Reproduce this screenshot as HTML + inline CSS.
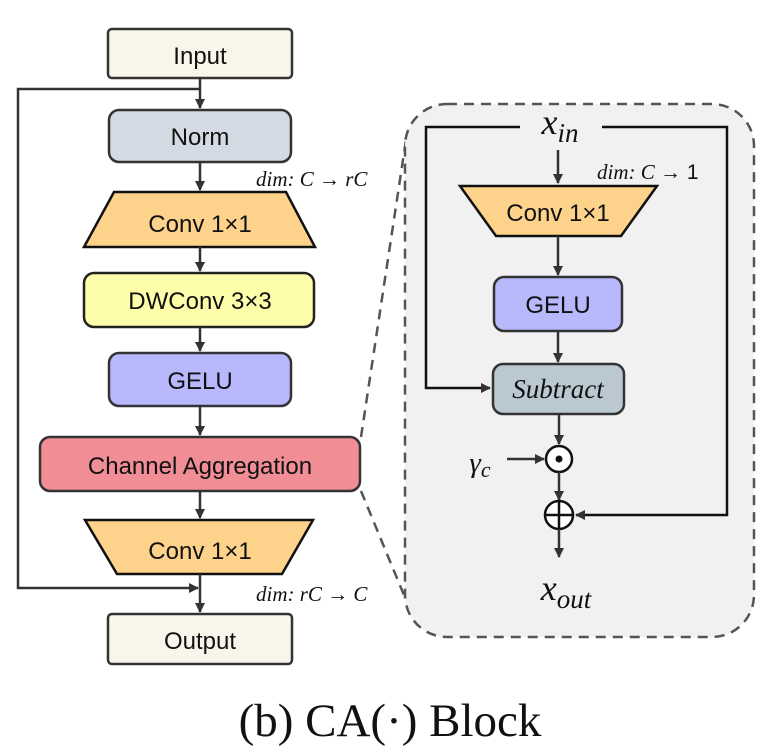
<!DOCTYPE html>
<html><head><style>html,body{margin:0;padding:0;background:#fff;}svg{display:block}</style></head>
<body>
<svg width="781" height="756" viewBox="0 0 781 756" xmlns="http://www.w3.org/2000/svg">
<defs>
<marker id="a" markerWidth="10" markerHeight="10" refX="9" refY="5" orient="auto" markerUnits="userSpaceOnUse"><path d="M0,0 L10,5 L0,10 z" fill="#333"/></marker>
</defs>
<g font-family="Liberation Sans, sans-serif" font-size="24" text-anchor="middle" fill="#111">
<path d="M361,437 L406,140" stroke="#555" stroke-width="2.5" stroke-dasharray="10,7" fill="none"/>
<path d="M361,491 L406,600" stroke="#555" stroke-width="2.5" stroke-dasharray="10,7" fill="none"/>
<rect x="405" y="104" width="349" height="533" rx="42" fill="#f1f1f1" stroke="#555" stroke-width="2.5" stroke-dasharray="10,7"/>
<rect x="108" y="29" width="184" height="49" rx="4" fill="#f8f6ea" stroke="#333" stroke-width="2.5"/>
<text x="200" y="64">Input</text>
<path d="M200,78 V108" stroke="#333" stroke-width="2.5" marker-end="url(#a)"/>
<path d="M200,89 H18 V588 H198" stroke="#333" stroke-width="2.5" fill="none" marker-end="url(#a)"/>
<rect x="109" y="110" width="182" height="52" rx="10" fill="#d4dae3" stroke="#333" stroke-width="2.5"/>
<text x="200" y="145">Norm</text>
<path d="M200,162 V190" stroke="#333" stroke-width="2.5" marker-end="url(#a)"/>
<polygon points="114,192 286,192 315,247 84,247" fill="#fdd28a" stroke="#111" stroke-width="2.5"/>
<text x="200" y="232">Conv 1×1</text>
<path d="M200,247 V271" stroke="#333" stroke-width="2.5" marker-end="url(#a)"/>
<rect x="84" y="273" width="230" height="54" rx="10" fill="#fefdaa" stroke="#222" stroke-width="2.5"/>
<text x="200" y="309">DWConv 3×3</text>
<path d="M200,327 V351" stroke="#333" stroke-width="2.5" marker-end="url(#a)"/>
<rect x="109" y="353" width="182" height="53" rx="10" fill="#b8b8fc" stroke="#333" stroke-width="2.5"/>
<text x="200" y="389">GELU</text>
<path d="M200,406 V435" stroke="#333" stroke-width="2.5" marker-end="url(#a)"/>
<rect x="40" y="437" width="320" height="54" rx="10" fill="#f08d95" stroke="#333" stroke-width="2.5"/>
<text x="200" y="474">Channel Aggregation</text>
<path d="M200,491 V518" stroke="#333" stroke-width="2.5" marker-end="url(#a)"/>
<polygon points="85,520 313,520 282,574 117,574" fill="#fdd28a" stroke="#111" stroke-width="2.5"/>
<text x="200" y="559">Conv 1×1</text>
<path d="M200,574 V612" stroke="#333" stroke-width="2.5" marker-end="url(#a)"/>
<rect x="108" y="614" width="184" height="50" rx="4" fill="#f8f6ea" stroke="#333" stroke-width="2.5"/>
<text x="200" y="649">Output</text>
<g font-family="Liberation Serif, serif" font-style="italic" font-size="21" text-anchor="start">
<text x="256" y="186">dim: C → rC</text>
<text x="256" y="601">dim: rC → C</text>
<text x="597" y="179">dim: C <tspan font-style="normal" font-family="Liberation Sans, sans-serif">→ 1</tspan></text>
</g>
<path d="M520,127 H426 V388 H490" stroke="#111" stroke-width="2.5" fill="none" marker-end="url(#a)"/>
<path d="M602,127 H727 V515 H576" stroke="#111" stroke-width="2.5" fill="none" marker-end="url(#a)"/>
<text x="560" y="134" font-family="Liberation Serif, serif" font-style="italic" font-size="36">x<tspan font-size="27" dy="8">in</tspan></text>
<path d="M558,150 V183" stroke="#333" stroke-width="2.5" marker-end="url(#a)"/>
<polygon points="460,186 657,186 621,236 496,236" fill="#fdd28a" stroke="#111" stroke-width="2.5"/>
<text x="558" y="221">Conv 1×1</text>
<path d="M558,236 V275" stroke="#333" stroke-width="2.5" marker-end="url(#a)"/>
<rect x="494" y="277" width="128" height="54" rx="10" fill="#b8b8fc" stroke="#333" stroke-width="2.5"/>
<text x="558" y="313">GELU</text>
<path d="M558,331 V362" stroke="#333" stroke-width="2.5" marker-end="url(#a)"/>
<rect x="493" y="364" width="131" height="50" rx="10" fill="#b9c8d1" stroke="#333" stroke-width="2.5"/>
<text x="558" y="398" font-family="Liberation Serif, serif" font-style="italic" font-size="27">Subtract</text>
<path d="M559,414 V444" stroke="#333" stroke-width="2.5" marker-end="url(#a)"/>
<circle cx="559" cy="459" r="13" fill="#fff" stroke="#111" stroke-width="2.5"/>
<circle cx="559" cy="459" r="3.5" fill="#111"/>
<path d="M507,459 H544" stroke="#333" stroke-width="2.5" marker-end="url(#a)"/>
<text x="480" y="472" font-family="Liberation Serif, serif" font-style="italic" font-size="29">γ<tspan font-size="22" dy="5">c</tspan></text>
<path d="M559,472 V500" stroke="#333" stroke-width="2.5" marker-end="url(#a)"/>
<circle cx="559" cy="515" r="14" fill="#fff" stroke="#111" stroke-width="2.5"/>
<path d="M545,515 H573 M559,501 V529" stroke="#111" stroke-width="2.5"/>
<path d="M559,529 V557" stroke="#333" stroke-width="2.5" marker-end="url(#a)"/>
<text x="566" y="600" font-family="Liberation Serif, serif" font-style="italic" font-size="36">x<tspan font-size="27" dy="8">out</tspan></text>
<text x="390" y="736" font-family="Liberation Serif, serif" font-size="47">(b) CA(·) Block</text>
</g>
</svg>
</body></html>
